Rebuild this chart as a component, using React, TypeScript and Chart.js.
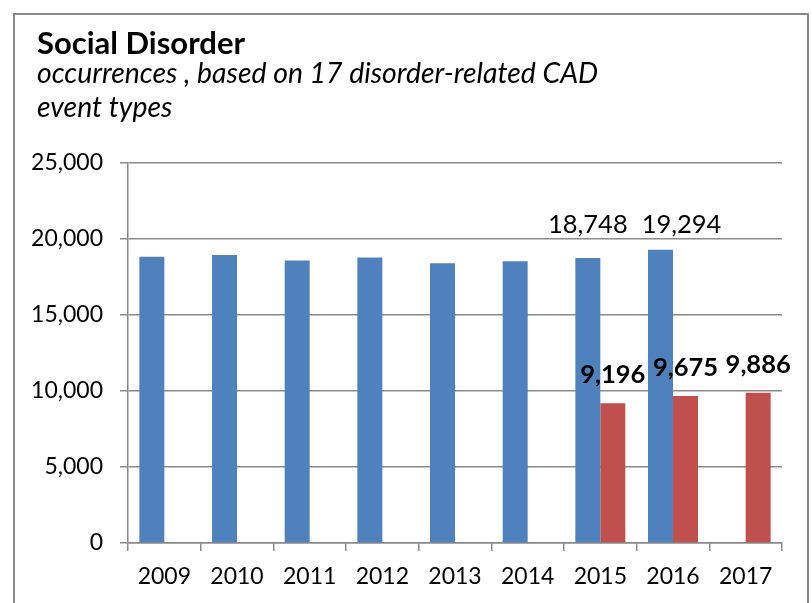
import React, { useEffect, useRef } from "react";
import { Chart, registerables } from "chart.js";

Chart.register(...registerables);

const years = ["2009", "2010", "2011", "2012", "2013", "2014", "2015", "2016", "2017"];
const blueValues = [18830, 18940, 18580, 18780, 18410, 18540, 18748, 19294, null];
const redValues = [null, null, null, null, null, null, 9196, 9675, 9886];
const yTicksMax = 25000;
const yTicksStep = 5000;
const titleText = "Social Disorder";
const subtitleLines = ["occurrences , based on 17 disorder-related CAD", "event types"];

const FONT = "Lato, 'Open Sans', sans-serif";
const fmt = (v: number) => Number(v).toLocaleString("en-US");

// labels: [datasetIndex, dataIndex, dx, dy, bold]
const labelSpecs: Array<[number, number, number, number, boolean]> = [
  [0, 6, 0, -25, false],
  [0, 7, 21, -17, false],
  [1, 6, 0, -20, true],
  [1, 7, 0, -20, true],
  [1, 8, 0, -20, true],
];

const labelPlugin = {
  id: "valueLabels",
  afterDatasetsDraw(chart: any) {
    const ctx = chart.ctx;
    ctx.save();
    ctx.fillStyle = "#000";
    ctx.textAlign = "center";
    ctx.textBaseline = "alphabetic";
    for (const [ds, i, dx, dy, bold] of labelSpecs) {
      const el = chart.getDatasetMeta(ds).data[i];
      const v = chart.data.datasets[ds].data[i];
      if (!el || v == null) continue;
      ctx.font = `${bold ? "bold " : ""}25.5px ${FONT}`;
      ctx.fillText(fmt(v), el.x + dx, el.y + dy);
    }
    ctx.restore();
  },
};

const headingPlugin = {
  id: "heading",
  afterDraw(chart: any) {
    const ctx = chart.ctx;
    ctx.save();
    ctx.fillStyle = "#000";
    ctx.textAlign = "left";
    ctx.textBaseline = "alphabetic";
    ctx.font = `bold 31px ${FONT}`;
    ctx.fillText(titleText, 37, 54);
    ctx.font = `italic 28.4px ${FONT}`;
    subtitleLines.forEach((line, i) => ctx.fillText(line, 37, 83 + i * 34));
    ctx.restore();
  },
};

export default function App() {
  const ref = useRef<HTMLCanvasElement | null>(null);
  useEffect(() => {
    if (!ref.current) return;
    const gridColor = "#8a8a8a";
    const chart = new Chart(ref.current, {
      type: "bar",
      data: {
        labels: years,
        datasets: [
          {
            data: blueValues as any,
            backgroundColor: "#4F81BD",
            categoryPercentage: 0.688,
            barPercentage: 1,
          },
          {
            data: redValues as any,
            backgroundColor: "#C0504D",
            categoryPercentage: 0.688,
            barPercentage: 1,
          },
        ],
      },
      options: {
        animation: false,
        responsive: false,
        devicePixelRatio: 1,
        layout: { padding: { left: 14, right: 30, top: 163, bottom: 0 } },
        plugins: {
          legend: { display: false },
          tooltip: { enabled: false },
          title: { display: false },
          subtitle: { display: false },
        },
        scales: {
          x: {
            grid: {
              display: true,
              drawOnChartArea: false,
              drawTicks: true,
              tickLength: 8,
              offset: true,
              color: gridColor,
              lineWidth: 1.5,
            },
            border: { display: true, color: gridColor, width: 1.5 },
            ticks: { color: "#000", font: { family: FONT, size: 23 }, padding: 12, maxRotation: 0 },
            afterFit: (s: any) => {
              s.height = 60;
            },
          },
          y: {
            min: 0,
            max: yTicksMax,
            ticks: {
              stepSize: yTicksStep,
              color: "#000",
              font: { family: FONT, size: 23 },
              padding: 17,
              callback: (v: any) => fmt(v),
            },
            grid: { color: gridColor, lineWidth: 1.5, tickLength: 8, drawTicks: true },
            border: { display: true, color: gridColor, width: 1.5 },
            afterFit: (s: any) => {
              s.width = 114;
            },
          },
        },
      },
      plugins: [labelPlugin, headingPlugin],
    });
    return () => chart.destroy();
  }, []);

  return (
    <div style={{ position: "absolute", left: 0, top: 0, width: 812, height: 603, overflow: "hidden", background: "#fff" }}>
      <div
        style={{
          position: "absolute",
          left: 13,
          top: 13,
          width: 796,
          height: 700,
          border: "2px solid #898989",
          boxSizing: "border-box",
        }}
      />
      <canvas ref={ref} width={812} height={603} style={{ position: "absolute", left: 0, top: 0, width: 812, height: 603 }} />
    </div>
  );
}
